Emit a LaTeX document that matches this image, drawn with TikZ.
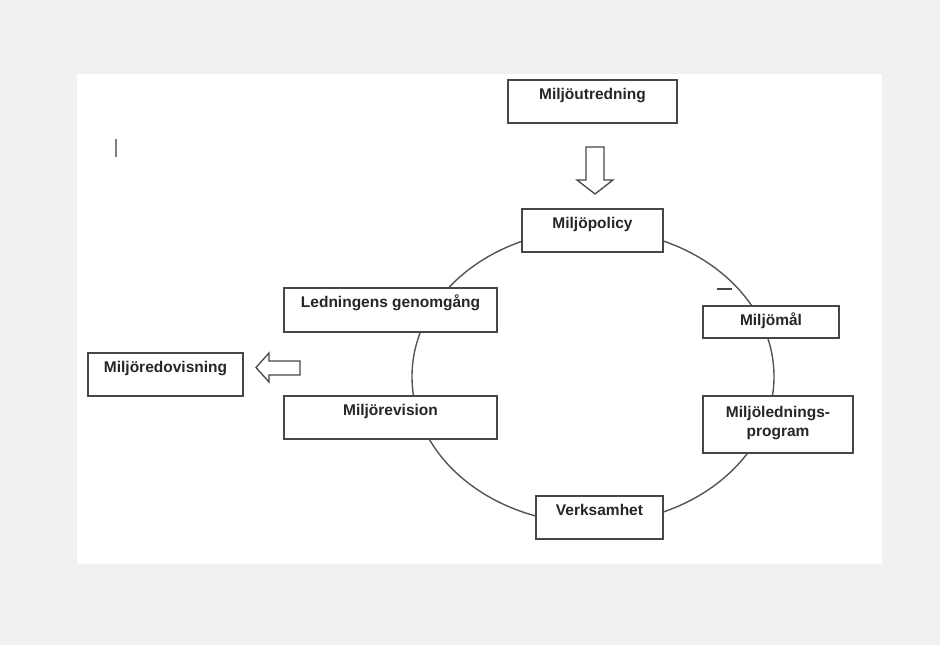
\documentclass[tikz,border=0pt]{standalone}
\usepackage{fontspec}
\setmainfont{Liberation Sans}
\usetikzlibrary{positioning}
\definecolor{pagegrey}{HTML}{F1F1F1}
\definecolor{framegrey}{HTML}{464646}
\definecolor{ringgrey}{HTML}{555555}
\tikzset{
  box/.style 2 args={rectangle, draw=framegrey, line width=1.5pt, fill=white,
    inner sep=0pt, outer sep=0pt, minimum width=#1, text height=19.5pt, text depth=#2,
    font=\fontsize{15.5pt}{19pt}\selectfont\bfseries, text=black!85, align=center},
  hollow/.style={draw=framegrey, line width=1.3pt, fill=white, line join=miter},
  ring/.style={draw=ringgrey, line width=1.4pt},
}
\begin{document}
\begin{tikzpicture}[x=1pt, y=-1pt]

% Page and sheet
\fill[pagegrey] (0,0) rectangle (940,645);
\fill[white] (77,74) rectangle (882,564);
\useasboundingbox (0,0) rectangle (940,645);

% Cycle
\draw[ring] (593,376.5) ellipse [x radius=181pt, y radius=147pt];

% Boxes
\node[box={169pt}{23.5pt}] (utredning) at (592.5,101.5) {Miljöutredning};
\node[box={141pt}{23.5pt}, below=86pt of utredning] (policy) {Miljöpolicy};
\node[box={136pt}{12.5pt}, below right=54pt and 40pt of policy] (mal) {Miljömål};
\node[box={150pt}{17pt}, text height=40pt, below right=58pt and 0pt of mal.south west] (program) {Miljölednings-\\program};
\node[box={127pt}{23.5pt}, below=244pt of policy, xshift=7pt] (verksamhet) {Verksamhet};
\node[box={213pt}{24.5pt}, below left=36pt and 25pt of policy] (ledning) {Ledningens genomgång};
\node[box={213pt}{23.5pt}, below=64pt of ledning] (revision) {Miljörevision};
\node[box={155pt}{23.5pt}, below left=21pt and 41pt of ledning] (redovisning) {Miljöredovisning};

% Hollow arrows
\draw[hollow] (586,147) -- (604,147) -- (604,180) -- (613,180) -- (595,194)
  -- (577,180) -- (586,180) -- cycle;
\draw[hollow] (300,361) -- (300,375) -- (269,375) -- (269,382) -- (256,367.5)
  -- (269,353) -- (269,361) -- cycle;

% Stray marks
\draw[gray, line width=2pt] (116,139) -- (116,157);
\draw[framegrey, line width=1.3pt] (717,289) -- (732,289);

\end{tikzpicture}
\end{document}
